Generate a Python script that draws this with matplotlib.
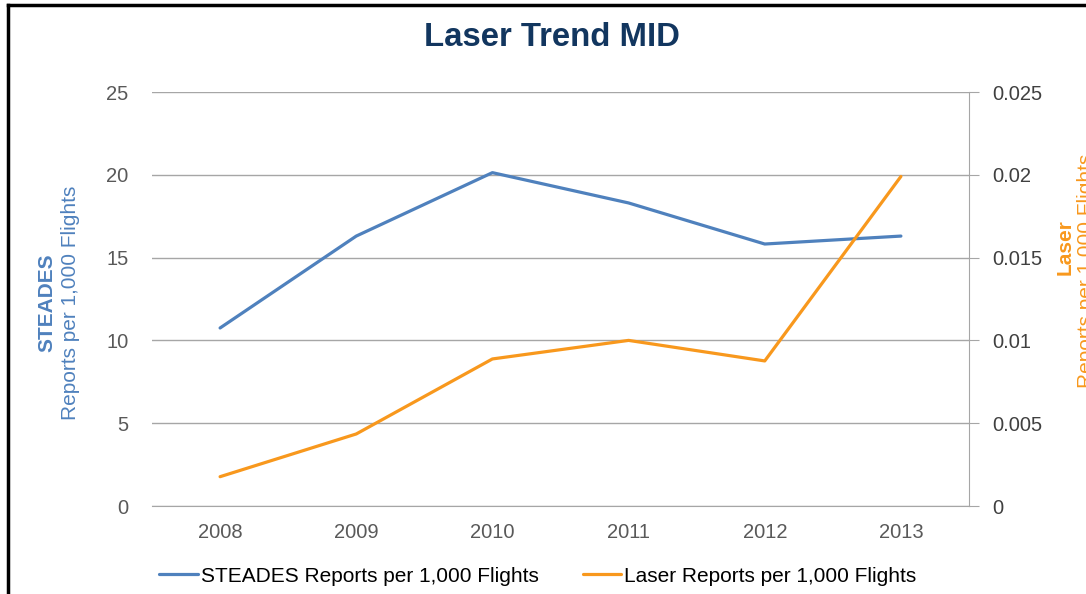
import matplotlib
matplotlib.use("Agg")
import matplotlib.pyplot as plt
from matplotlib.lines import Line2D

years = ["2008", "2009", "2010", "2011", "2012", "2013"]
steades = [10.75, 16.3, 20.13, 18.3, 15.82, 16.3]
laser = [0.00177, 0.00435, 0.00888, 0.0100, 0.00876, 0.0199]
left_ticks = [0, 5, 10, 15, 20, 25]
right_ticks = [0, 0.005, 0.01, 0.015, 0.02, 0.025]
right_labels = ["0", "0.005", "0.01", "0.015", "0.02", "0.025"]

BLUE = "#4F81BD"
ORANGE = "#F8981D"
GRID = "#A6A6A6"
TICKC = "#595959"

plt.rcParams['font.family'] = ['Liberation Sans', 'DejaVu Sans']

W, H = 1086, 594
fig = plt.figure(figsize=(W / 100, H / 100), dpi=100)
ax = fig.add_axes([152 / W, 1 - 506 / H, (969 - 152) / W, (506 - 92) / H])
ax2 = ax.twinx()

x = list(range(len(years)))
l1, = ax.plot(x, steades, color=BLUE, lw=2.3, solid_capstyle='round', zorder=3)
l2, = ax2.plot(x, laser, color=ORANGE, lw=2.3, solid_capstyle='round', zorder=3)

ax.set_xlim(-0.5, len(years) - 0.5)
ax.set_ylim(0, 25)
ax2.set_ylim(0, 0.025)
ax.set_xticks(x)
ax.set_xticklabels(years)
ax.set_yticks(left_ticks)
ax2.set_yticks(right_ticks)
ax2.set_yticklabels(right_labels)

ax.grid(axis='y', color=GRID, lw=1.0)
ax.set_axisbelow(True)
for s in ['top', 'left', 'right']:
    ax.spines[s].set_visible(False)
ax.spines['bottom'].set_color(GRID)
for s in ['top', 'left', 'bottom']:
    ax2.spines[s].set_visible(False)
ax2.spines['right'].set_color(GRID)

ax.tick_params(axis='x', length=0, pad=12, labelsize=14.5, labelcolor=TICKC)
ax.tick_params(axis='y', length=0, pad=17, labelsize=14.5, labelcolor=TICKC)
ax2.tick_params(axis='y', length=7, color=GRID, pad=10, labelsize=14.5, labelcolor='#404040')

# title
fig.text(552 / W, 1 - 38 / H, "Laser Trend MID", ha='center', va='center',
         fontsize=23.7, fontweight='bold', color='#12365F')

# left axis label
fig.text(47 / W, 1 - 303 / H, "STEADES", rotation=90, ha='center', va='center',
         fontsize=15, fontweight='bold', color=BLUE)
fig.text(70 / W, 1 - 303 / H, "Reports per 1,000 Flights", rotation=90, ha='center',
         va='center', fontsize=15, color=BLUE)

# right axis label (clipped at the edge)
fig.text(1065 / W, 1 - 247 / H, "Laser", rotation=90, ha='center', va='center',
         fontsize=15, fontweight='bold', color=ORANGE)
fig.text(1087 / W, 1 - 271 / H, "Reports per 1,000 Flights", rotation=90, ha='center',
         va='center', fontsize=15, color=ORANGE)

# legend
fig.legend([l1, l2], ["STEADES Reports per 1,000 Flights", "Laser Reports per 1,000 Flights"],
           loc='center', bbox_to_anchor=(538 / W, 1 - 576 / H), ncol=2, frameon=False,
           fontsize=15, handlelength=1.85, handletextpad=0.15, columnspacing=2.1,
           borderpad=0, borderaxespad=0)

# border
fig.add_artist(Line2D([8 / W, 1.0], [1 - 5 / H, 1 - 5 / H], transform=fig.transFigure,
                      color='black', lw=2.5))
fig.add_artist(Line2D([8 / W, 8 / W], [1 - 5 / H, 0], transform=fig.transFigure,
                      color='black', lw=2.5))

fig.savefig("out.png", dpi=100)
